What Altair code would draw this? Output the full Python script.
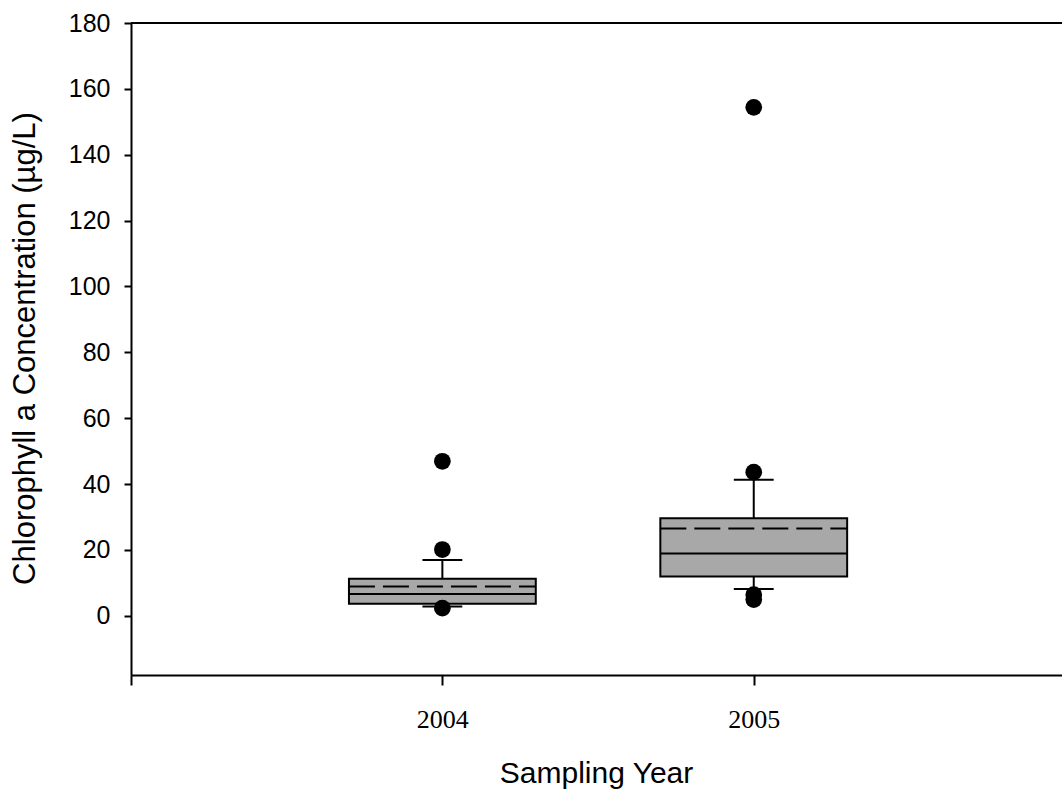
import altair as alt
import pandas as pd

# Box summaries per sampling year
years = [2004, 2005]
q1 = [3.6, 11.9]
q3 = [11.2, 29.6]
median = [6.6, 18.9]
mean = [8.9, 26.5]
whisker_lo = [2.8, 8.1]
whisker_hi = [16.9, 41.3]

# Outlying observations
outlier_years = [2004, 2004, 2004, 2005, 2005, 2005, 2005]
outlier_values = [46.9, 20.1, 2.3, 154.4, 43.6, 6.4, 4.9]

y_ticks = [0, 20, 40, 60, 80, 100, 120, 140, 160, 180]
x_ticks = [2003, 2004, 2005]

HALF_BOX = 0.3    # box half-width in years
HALF_CAP = 0.064  # whisker cap half-width in years

boxes = pd.DataFrame({
    "year": years, "q1": q1, "q3": q3, "median": median, "mean": mean,
    "lo": whisker_lo, "hi": whisker_hi,
})
boxes["x0"] = boxes["year"] - HALF_BOX
boxes["x1"] = boxes["year"] + HALF_BOX
boxes["c0"] = boxes["year"] - HALF_CAP
boxes["c1"] = boxes["year"] + HALF_CAP

outliers = pd.DataFrame({"year": outlier_years, "value": outlier_values})

x_scale = alt.Scale(domain=[2003, 2005.99], nice=False, zero=False)
y_scale = alt.Scale(domain=[-18, 180], nice=False, zero=False)

x_axis = alt.Axis(
    title="Sampling Year", values=x_ticks, format="d",
    labelExpr="datum.value == 2003 ? '' : datum.label",
    grid=False, tickSize=10, tickWidth=2, domainWidth=2,
    domainColor="black", tickColor="black",
    labelFont="Liberation Serif", labelFontSize=26, labelColor="black",
    labelPadding=21,
    titleFont="Liberation Sans", titleFontSize=30, titleFontWeight="normal",
    titleColor="black", titleX=465, titleY=107, titleBaseline="alphabetic",
    titleAlign="center",
)
y_axis = alt.Axis(
    title="Chlorophyll a Concentration (µg/L)", values=y_ticks,
    grid=False, tickSize=7, tickWidth=2, domainWidth=2,
    domainColor="black", tickColor="black",
    labelFont="Liberation Sans", labelFontSize=25, labelColor="black",
    labelPadding=14,
    titleFont="Liberation Sans", titleFontSize=31, titleFontWeight="normal",
    titleColor="black", titleX=-106, titleY=325, titleAngle=270,
    titleAlign="center", titleBaseline="middle",
)

base = alt.Chart(boxes)

box = base.mark_rect(fill="#a8a8a8", stroke="black", strokeWidth=2).encode(
    x=alt.X("x0:Q", scale=x_scale, axis=x_axis),
    x2="x1:Q",
    y=alt.Y("q1:Q", scale=y_scale, axis=y_axis),
    y2="q3:Q",
)

whisk_up = base.mark_rule(color="black", strokeWidth=2).encode(
    x="year:Q", y="q3:Q", y2="hi:Q")
whisk_dn = base.mark_rule(color="black", strokeWidth=2).encode(
    x="year:Q", y="lo:Q", y2="q1:Q")
cap_up = base.mark_rule(color="black", strokeWidth=2).encode(
    x="c0:Q", x2="c1:Q", y="hi:Q")
cap_dn = base.mark_rule(color="black", strokeWidth=2).encode(
    x="c0:Q", x2="c1:Q", y="lo:Q")

median_line = base.mark_rule(color="black", strokeWidth=2).encode(
    x="x0:Q", x2="x1:Q", y="median:Q")
mean_line = base.mark_rule(color="black", strokeWidth=2,
                           strokeDash=[26, 8]).encode(
    x="x0:Q", x2="x1:Q", y="mean:Q")

points = alt.Chart(outliers).mark_circle(
    color="black", opacity=1, size=280).encode(
    x="year:Q", y="value:Q")

# frame line along the top of the plot area
top_line = alt.Chart(pd.DataFrame({"v": [180]})).mark_rule(
    color="black", strokeWidth=2).encode(y=alt.Y("v:Q"))

chart = alt.layer(
    whisk_up, whisk_dn, cap_up, cap_dn, box, median_line, mean_line,
    points, top_line,
).properties(
    width=931, height=652,
    padding={"left": 131, "top": 23, "right": 0, "bottom": 115},
    autosize=alt.AutoSizeParams(type="none"),
    background="white",
).configure_view(stroke=None)

chart.save("out.html", embed_options={"renderer": "svg", "actions": False})
